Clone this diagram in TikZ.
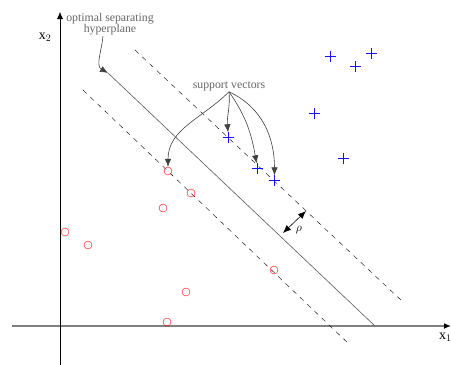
\documentclass[tikz,border=0pt]{standalone}
\usepackage{fontspec}
\setmainfont{Liberation Serif}
\usetikzlibrary{arrows.meta}
\definecolor{plusblue}{RGB}{20,20,245}

\begin{document}
\begin{tikzpicture}[x=1pt,y=-1pt,
  circmark/.style={circle,draw=red,thin,inner sep=0pt,minimum size=8pt},
  plusmark/.style={inner sep=0pt,minimum size=10pt},
  lbl/.style={text=black!60,font=\fontsize{11.8}{13}\selectfont,align=center,inner sep=1pt},
  callout/.style={black!75,semithick,-{Latex[length=8pt,width=6.5pt]}}]
\useasboundingbox (0,0) rectangle (451,365);
% axes
\coordinate (ox) at (12,326);\coordinate (ex) at (451,326);\coordinate (oy) at (60,365);\coordinate (ey) at (60,12);
\draw[black!50,line width=1.6pt,-{Latex[black,length=7pt,width=6pt]}] (ox)--(ex);
\draw[black,-{Latex[length=7pt,width=6pt]}] (oy)--(ey);
\node[font=\fontsize{14}{15}\selectfont,inner sep=0pt] (lx2) at (45,37) {x$_2$};
\node[font=\fontsize{14}{15}\selectfont,inner sep=0pt,anchor=west] (lx1) at (439,337) {x$_1$};
% hyperplane and margins
\coordinate (h1) at (108,73);\coordinate (h2) at (375,326);
\coordinate (u1) at (135,50);\coordinate (u2) at (403,302);
\coordinate (d1) at (83,90);\coordinate (d2) at (350,345);
\draw[black!65,semithick] (h1)--(h2);
\draw[dashed,dash pattern=on 5pt off 5pt] (u1)--(u2) (d1)--(d2);
% data points
\foreach \n/\x/\y in {n1/168/171,n2/191/193,n3/163/208,n4/65/232,n5/88/245,n6/274/270,n7/186/292,n8/167/322}{\node[circmark] (\n) at (\x,\y) {};}
\foreach \n/\x/\y in {p1/330.5/56.5,p2/355.5/66.5,p3/371.5/53.5,p4/314.5/113.5,p5/343.5/158.5,p6/228.5/137.5,p7/257.5/168.5,p8/274.5/180.5}{\node[plusmark] (\n) at (\x,\y) {};\draw[plusblue,line width=1pt] (\n.north)--(\n.south) (\n.west)--(\n.east);}
% labels
\node[lbl] (hyp) at (110,24) {optimal separating\\[-2pt]hyperplane};
\node[lbl] (sv) at (229,86) {support vectors};
\draw[callout] (hyp.south)++(-7,0) to[out=-95,in=150] (h1);
\draw[callout] (sv.south) to[out=-135,in=90] (n1);
\draw[callout] (sv.south) to[out=-85,in=95] (p6);
\draw[callout] (sv.south) to[out=-55,in=100] (p7);
\draw[callout] (sv.south) to[out=-25,in=90] (p8);
% margin width
\coordinate (m1) at (283,233);\coordinate (m2) at (306,211);
\draw[black,semithick,{Latex[length=8pt,width=6.5pt]}-{Latex[length=8pt,width=6.5pt]}] (m1)--(m2);
\node[font=\fontsize{13}{14}\selectfont\itshape,inner sep=0pt] (rho) at (299,230) {$\rho$};
\end{tikzpicture}
\end{document}
